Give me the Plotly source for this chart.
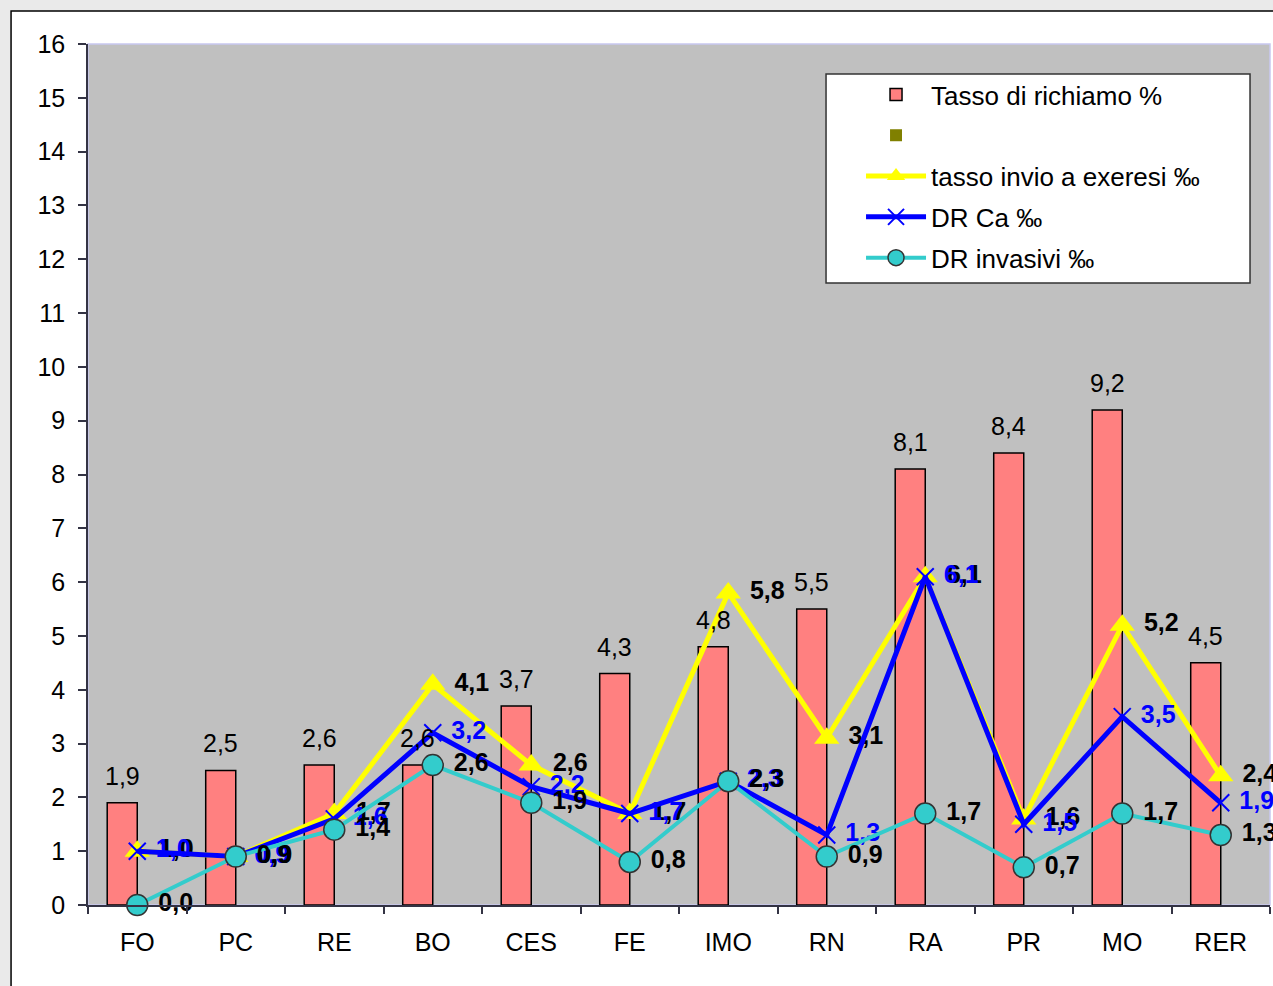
import plotly.graph_objects as go

categories = ["FO", "PC", "RE", "BO", "CES", "FE", "IMO", "RN", "RA", "PR", "MO", "RER"]
tasso_richiamo = [1.9, 2.5, 2.6, 2.6, 3.7, 4.3, 4.8, 5.5, 8.1, 8.4, 9.2, 4.5]
serie_vuota = [None] * 12
tasso_exeresi = [1.0, 0.9, 1.7, 4.1, 2.6, 1.7, 5.8, 3.1, 6.1, 1.6, 5.2, 2.4]
dr_ca = [1.0, 0.9, 1.6, 3.2, 2.2, 1.7, 2.3, 1.3, 6.1, 1.5, 3.5, 1.9]
dr_invasivi = [0.0, 0.9, 1.4, 2.6, 1.9, 0.8, 2.3, 0.9, 1.7, 0.7, 1.7, 1.3]
y_ticks = list(range(0, 17))

FONT = "Liberation Sans, Arial, sans-serif"
FS = 25
AX = "#333344"

fig = go.Figure()
fig.add_trace(go.Bar(
    x=categories, y=tasso_richiamo, name="Tasso di richiamo %",
    marker=dict(color="#FF8080", line=dict(color="black", width=1.5)),
    legendgroup="a",
))
fig.add_trace(go.Bar(
    x=categories, y=serie_vuota, name=" ",
    marker=dict(color="#808000", line=dict(width=0)),
    legendgroup="b",
))
fig.add_trace(go.Scatter(
    x=categories, y=tasso_exeresi, name="tasso invio a exeresi ‰",
    mode="lines+markers+text", line=dict(color="#FFFF00", width=5),
    marker=dict(symbol="triangle-up", size=22, color="#FFFF00"),
    texttemplate=" %{y:.1f}", textposition="middle right",
    textfont=dict(family=FONT, size=FS, color="black", weight="bold"),
    cliponaxis=False, legendgroup="c",
))
fig.add_trace(go.Scatter(
    x=categories, y=dr_ca, name="DR Ca ‰",
    mode="lines+markers+text", line=dict(color="#0000FF", width=5),
    marker=dict(symbol="x-thin-open", size=17, color="#0000FF",
                line=dict(color="#0000FF", width=2)),
    texttemplate=" %{y:.1f}", textposition="middle right",
    textfont=dict(family=FONT, size=FS, color="#0000FF", weight="bold"),
    cliponaxis=False, legendgroup="d",
))
fig.add_trace(go.Scatter(
    x=categories, y=dr_invasivi, name="DR invasivi ‰",
    mode="lines+markers+text", line=dict(color="#33CCCC", width=4),
    marker=dict(symbol="circle", size=21, color="#33CCCC",
                line=dict(color="#333333", width=1.5)),
    texttemplate=" %{y:.1f}", textposition="middle right",
    textfont=dict(family=FONT, size=FS, color="black", weight="bold"),
    cliponaxis=False, legendgroup="e",
))

annotations = []
for c, v in zip(categories, tasso_richiamo):
    annotations.append(dict(
        x=c, y=v, xref="x", yref="y", text=f"{v:.1f}".replace(".", ","),
        showarrow=False, xshift=-15, yshift=11, yanchor="bottom",
        font=dict(family=FONT, size=FS, color="black"),
    ))

shapes = [
    # white chart area with black frame
    dict(type="rect", xref="paper", yref="paper", x0=-0.0651, x1=1.2, y0=-0.3, y1=1.0383,
         fillcolor="white", line=dict(color="black", width=1.5), layer="below"),
    # grey plot area
    dict(type="rect", xref="paper", yref="paper", x0=0, x1=1, y0=0, y1=1,
         fillcolor="#C0C0C0", line=dict(color="#C8C8F0", width=1.5), layer="below"),
    # legend box
    dict(type="rect", xref="paper", yref="paper", x0=0.6244, x1=0.9831, y0=0.7224, y1=0.9652,
         fillcolor="white", line=dict(color="#333333", width=1.5), layer="above"),
]

fig.update_layout(
    width=1273, height=986,
    margin=dict(l=88, r=3, t=44, b=81),
    paper_bgcolor="#EAEAEA", plot_bgcolor="rgba(0,0,0,0)",
    barmode="group", bargap=0.39, bargroupgap=0,
    separators=",.",
    font=dict(family=FONT, size=FS, color="black"),
    showlegend=True,
    legend=dict(
        x=0.654, y=0.9686, xanchor="left", yanchor="top",
        bgcolor="rgba(0,0,0,0)", borderwidth=0,
        font=dict(family=FONT, size=26, color="black"),
        itemwidth=60, tracegroupgap=4, traceorder="grouped",
    ),
    annotations=annotations,
    shapes=shapes,
    xaxis=dict(
        type="category", range=[-0.5, 11.5], showline=True, linecolor=AX, linewidth=1.5,
        ticks="outside", tickson="boundaries", ticklen=7, tickcolor=AX, tickwidth=1.5,
        tickfont=dict(family=FONT, size=FS, color="black"),
        ticklabelstandoff=14, showgrid=False, zeroline=False,
    ),
    yaxis=dict(
        range=[0, 16], tickvals=y_ticks, showline=True, linecolor=AX, linewidth=1.5,
        ticks="outside", ticklen=8, tickcolor=AX, tickwidth=1.5,
        tickfont=dict(family=FONT, size=FS, color="black"),
        ticklabelstandoff=8, showgrid=False, zeroline=False,
    ),
)

fig.write_html("out.html", config={"displayModeBar": False},
               post_script="document.body.style.margin='0';")
